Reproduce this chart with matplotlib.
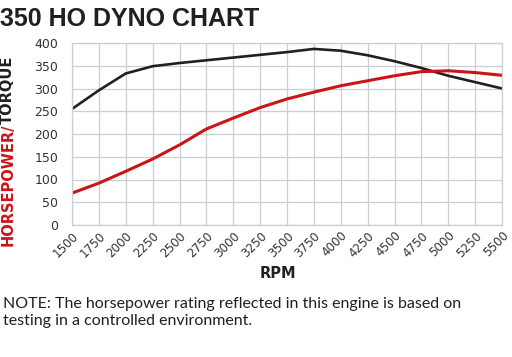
import numpy as np
import matplotlib.pyplot as plt

# RPM points and curves
rpm = [1500, 1750, 2000, 2250, 2500, 2750, 3000, 3250, 3500, 3750, 4000, 4250, 4500, 4750, 5000, 5250, 5500]
horsepower = [70, 92, 118, 145, 176, 211, 235, 258, 277, 292, 306, 317, 328, 337, 339, 335, 329]
torque = [255, 296, 333, 349, 356, 362, 368, 374, 380, 387, 383, 373, 360, 345, 328, 314, 300]

y_ticks = [0, 50, 100, 150, 200, 250, 300, 350, 400]

red = "#cc1417"
dark = "#231f20"

fig = plt.figure(figsize=(5.12, 3.57), dpi=100)
ax = fig.add_axes([72 / 512, 1 - 225 / 357, 430 / 512, 182 / 357])

ax.plot(rpm, torque, color=dark, lw=1.9, solid_capstyle="butt")
ax.plot(rpm, horsepower, color=red, lw=2.2, solid_capstyle="butt")

ax.set_xlim(1500, 5500)
ax.set_ylim(0, 400)
ax.set_xticks(rpm)
ax.set_xticklabels([str(r) for r in rpm], rotation=45, ha="right", va="top",
                   rotation_mode="anchor", fontsize=8.6, color="#333333")
ax.set_yticks(y_ticks)
ax.set_yticklabels([str(v) for v in y_ticks], fontsize=9, color="#333333")
ax.tick_params(axis="y", length=0, pad=10)
ax.tick_params(axis="x", length=0, pad=3)
ax.grid(True, color="#c9cfd2", lw=0.9)
ax.set_axisbelow(True)
for s in ax.spines.values():
    s.set_color("#c9cfd2")
    s.set_linewidth(0.9)

fig.text(0.0, 1 - 26 / 357, "350 HO DYNO CHART", fontsize=18, fontweight="bold",
         color=dark, ha="left", va="baseline", family="Liberation Sans")

# two-colour y label
split_y = 1 - 124 / 357
fig.text(0.015, split_y, "HORSEPOWER/", rotation=90, color=red, fontsize=10.5,
         fontweight="bold", ha="center", va="top")
fig.text(0.015, split_y, "TORQUE", rotation=90, color=dark, fontsize=10.5,
         fontweight="bold", ha="center", va="bottom")

fig.text(0.543, 1 - 274 / 357, "RPM", fontsize=10.5, fontweight="bold", color=dark,
         ha="center", va="center")

fig.text(0.006, 1 - 308 / 357, "NOTE: The horsepower rating reflected in this engine is based on",
         fontsize=11.5, color=dark, ha="left", va="baseline", family="Lato")
fig.text(0.006, 1 - 325 / 357, "testing in a controlled environment.",
         fontsize=11.5, color=dark, ha="left", va="baseline", family="Lato")

fig.savefig("out.png", dpi=100)
